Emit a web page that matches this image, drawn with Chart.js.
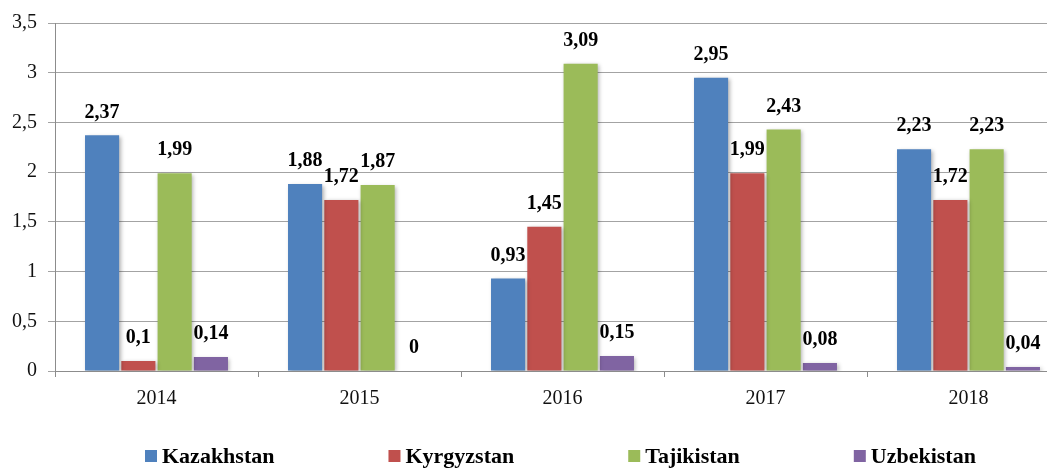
<!DOCTYPE html>
<html>
<head>
<meta charset="utf-8">
<script src="https://cdn.jsdelivr.net/npm/chart.js@4"></script>
<style>
  html, body { margin: 0; padding: 0; background: #fff; overflow: hidden; }
  #wrap { width: 1047px; height: 468px; overflow: hidden; }
</style>
</head>
<body>
<div id="wrap"><canvas id="chart" width="1075" height="468"></canvas></div>
<script>
const years = ["2014", "2015", "2016", "2017", "2018"];
const kazakhstan = [2.37, 1.88, 0.93, 2.95, 2.23];
const kyrgyzstan = [0.1, 1.72, 1.45, 1.99, 1.72];
const tajikistan = [1.99, 1.87, 3.09, 2.43, 2.23];
const uzbekistan = [0.14, 0, 0.15, 0.08, 0.04];
const yTicks = [0, 0.5, 1, 1.5, 2, 2.5, 3, 3.5];

const serif = "'Liberation Serif', 'Times New Roman', serif";

function fmt(v) {
  return String(v).replace(".", ",");
}

// soft shadow under the bars, like the office chart
const shadowPlugin = {
  id: "barShadow",
  beforeDatasetsDraw(chart) {
    const ctx = chart.ctx;
    ctx.save();
    ctx.shadowColor = "rgba(0,0,0,0.3)";
    ctx.shadowBlur = 4;
    ctx.shadowOffsetX = 1.5;
    ctx.shadowOffsetY = 1.5;
  },
  afterDatasetsDraw(chart) {
    chart.ctx.restore();
  }
};

const labelPlugin = {
  id: "valueLabels",
  afterDatasetsDraw(chart) {
    const ctx = chart.ctx;
    ctx.save();
    ctx.font = "bold 20px " + serif;
    ctx.fillStyle = "#000";
    ctx.textAlign = "center";
    ctx.textBaseline = "middle";
    chart.data.datasets.forEach((ds, i) => {
      chart.getDatasetMeta(i).data.forEach((bar, j) => {
        ctx.fillText(fmt(ds.data[j]), bar.x, bar.y - 23);
      });
    });
    ctx.restore();
  }
};

// legend drawn by hand: the built-in one uses the same padding both ways
const legendPlugin = {
  id: "bottomLegend",
  afterDraw(chart) {
    const ctx = chart.ctx;
    const gap = 114;
    let x = chart.chartArea.left + 90;
    const y = 456;
    ctx.save();
    ctx.font = "bold 22px " + serif;
    ctx.textBaseline = "middle";
    ctx.textAlign = "left";
    chart.data.datasets.forEach((ds) => {
      ctx.fillStyle = ds.backgroundColor;
      ctx.fillRect(x, y - 6, 12, 12);
      ctx.fillStyle = "#000";
      ctx.fillText(ds.label, x + 17, y + 1);
      x += 17 + ctx.measureText(ds.label).width + gap;
    });
    ctx.restore();
  }
};

function makeSet(label, data, color) {
  return {
    label: label,
    data: data,
    backgroundColor: color,
    borderWidth: 0,
    categoryPercentage: 0.715,
    barPercentage: 0.94
  };
}

new Chart(document.getElementById("chart"), {
  type: "bar",
  data: {
    labels: years,
    datasets: [
      makeSet("Kazakhstan", kazakhstan, "#4F81BD"),
      makeSet("Kyrgyzstan", kyrgyzstan, "#C0504D"),
      makeSet("Tajikistan", tajikistan, "#9BBB59"),
      makeSet("Uzbekistan", uzbekistan, "#8064A2")
    ]
  },
  options: {
    responsive: false,
    animation: false,
    layout: { padding: { top: 19, right: 5, left: 0, bottom: 48 } },
    plugins: {
      tooltip: { enabled: false },
      legend: { display: false }
    },
    scales: {
      x: {
        offset: true,
        afterFit(scale) {
          scale.height = 49;
        },
        grid: {
          offset: true,
          drawOnChartArea: false,
          color: "#8c8c8c",
          tickLength: 6
        },
        border: { color: "#8c8c8c" },
        ticks: {
          font: { family: serif, size: 20 },
          color: "#111",
          padding: 10
        }
      },
      y: {
        min: 0,
        max: 3.5,
        afterBuildTicks(axis) {
          axis.ticks = yTicks.map((v) => ({ value: v }));
        },
        afterFit(scale) {
          scale.width = 55;
        },
        grid: {
          color: "#a3a3a3",
          tickLength: 7
        },
        border: { color: "#8c8c8c" },
        ticks: {
          font: { family: serif, size: 20 },
          color: "#111",
          padding: 11,
          callback: (v) => fmt(v)
        }
      }
    }
  },
  plugins: [shadowPlugin, labelPlugin, legendPlugin]
});
</script>
</body>
</html>
